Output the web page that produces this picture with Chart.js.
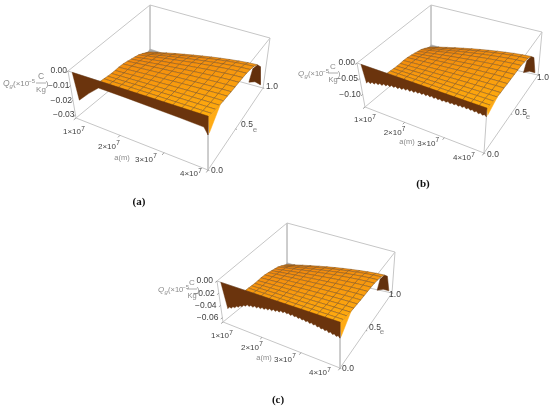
<!DOCTYPE html>
<html>
<head>
<meta charset="utf-8">
<title>Q_g surfaces</title>
<script src="https://cdn.jsdelivr.net/npm/chart.js@4"></script>
<style>
  html, body { margin: 0; padding: 0; background: #fff; }
  #page { position: relative; width: 550px; height: 409px; overflow: hidden; }
  canvas { position: absolute; filter: blur(0.35px); }
</style>
</head>
<body>
<div id="page">
  <canvas id="chartA" width="280" height="212" style="left:0;top:0"></canvas>
  <canvas id="chartB" width="270" height="212" style="left:280px;top:0"></canvas>
  <canvas id="chartC" width="280" height="197" style="left:130px;top:212px"></canvas>
</div>
<script>
// Axis ticks
const aTicks = [1e7, 2e7, 3e7, 4e7];
const aTickLabels = ["1×10", "2×10", "3×10", "4×10"];
const eTicks = [0, 0.5, 1];
const eTickLabels = ["0.0", "0.5", "1.0"];
const qTicksA = [0, -0.01, -0.02, -0.03];
const qTicksB = [0, -0.05, -0.10];
const qTicksC = [0, -0.02, -0.04, -0.06];

// Mesh rows of the visible surface: e of each row and the a where it starts
const surfaceE = [0, 0.063, 0.126, 0.189, 0.252, 0.315, 0.378, 0.442, 0.505, 0.568, 0.631, 0.694, 0.757, 0.82];
const surfaceStartA = [1.69e7, 1.66e7, 1.63e7, 1.60e7, 1.57e7, 1.54e7, 1.525e7, 1.51e7, 1.48e7, 1.45e7, 1.42e7, 1.39e7, 1.36e7, 1.33e7];

// Depth of the surface as a share of the lowest Q on the axis, one line per mesh row
const surfaceDepth = [
  [0, .003, .007, .01, .013, .016, .019, .021, .024, .026, .028, .029, .03],
  [.045, .045, .045, .045, .045, .045, .045, .045, .045, .045, .045, .045, .045],
  [.09, .087, .083, .08, .077, .074, .071, .069, .066, .064, .062, .061, .06],
  [.13, .124, .118, .112, .106, .101, .096, .091, .087, .083, .079, .077, .075],
  [.165, .156, .147, .138, .13, .123, .115, .108, .102, .097, .091, .087, .085],
  [.195, .183, .171, .16, .15, .139, .13, .121, .112, .105, .099, .093, .09],
  [.22, .206, .193, .18, .168, .156, .145, .135, .126, .117, .11, .104, .10],
  [.255, .238, .221, .205, .19, .176, .162, .149, .137, .127, .117, .11, .105],
  [.305, .283, .261, .24, .221, .202, .184, .167, .152, .138, .126, .116, .11],
  [.355, .327, .301, .275, .251, .228, .206, .185, .166, .15, .134, .122, .115],
  [.405, .373, .342, .312, .284, .257, .231, .207, .185, .165, .148, .134, .125],
  [.47, .433, .398, .364, .331, .30, .271, .244, .218, .196, .176, .16, .15],
  [.54, .499, .46, .422, .386, .352, .32, .289, .261, .236, .214, .196, .185],
  [.61, .569, .529, .49, .454, .419, .386, .355, .327, .302, .279, .261, .25]
];

// Dark end of the surface at a = 4e7
const endWallE = [0.82, 0.88, 0.93, 0.81, 0.69, 0.74];
const endWallDepth = [0.25, 0.38, 0.82, 0.57, 0.39, 0.2];

// Lower edge of the dark front wall at e = 0
const wallAA = [1.09e7, 1.15e7, 1.39e7, 1.63e7, 2.2e7, 2.8e7, 3.4e7, 3.91e7, 4e7];
const wallQA = [-0.0006, -0.0182, -0.0112, -0.005, -0.0054, -0.0061, -0.0067, -0.0074, -0.0112];
const wallStartB = 1.15e7;
const wallQB = [-.057, -.049, -.054, -.047, -.051, -.044, -.048, -.042, -.046, -.039, -.043, -.037, -.041, -.035, -.039,
  -.033, -.038, -.032, -.036, -.030, -.034, -.028, -.033, -.027, -.032, -.026, -.030, -.025, -.029, -.024, -.029,
  -.023, -.028, -.023, -.028, -.023, -.028, -.023, -.028, -.023, -.027, -.022, -.027, -.022, -.026, -.021, -.026,
  -.021, -.025, -.020, -.025, -.020, -.025, -.021, -.026, -.021, -.027, -.022, -.027, -.023, -.028];
const wallStartC = 1.18e7;
const wallQC = [-.041, -.037, -.038, -.0345, -.035, -.0315, -.032, -.0285, -.029, -.0255, -.026, -.0225, -.0245, -.0215, -.0235,
  -.0205, -.0225, -.0195, -.0215, -.0185, -.0205, -.0175, -.0195, -.0165, -.0185, -.0155, -.0175, -.0145, -.0165, -.0135, -.0155,
  -.013, -.015, -.013, -.0155, -.013, -.0155, -.0135, -.016, -.014, -.0165, -.0145, -.017, -.015, -.0175, -.0155, -.018,
  -.016, -.019, -.017, -.020, -.018, -.0205, -.0185, -.0215, -.0195, -.022, -.0205, -.023, -.021, -.0235];

// Panel layout: corners of the box on the page, [a=min e=0, a=max e=0, a=min e=1, a=max e=1]
const panels = [
  {
    canvas: 'chartA', left: 0, top: 0, width: 280, height: 212, caption: '(a)', captionAt: [139, 202],
    qBottom: -0.032, qTicks: qTicksA, qDigits: 2, qGap: 1, nameC: 38,
    boxTop: [[68, 71], [208, 116], [150, 5], [270, 38]],
    boxBottom: [[76, 118], [208, 170], [150, 57], [263, 88]],
    wallA: wallAA, wallQ: wallQA,
    aOffsets: [[-2, 14], [-11, 11], [-18, 7], [-17, 4]],
    eLabels: [[217, 171], [247, 125], [272, 87]], eName: [255, 130], aName: [122, 158], qName: [3, 85]
  },
  {
    canvas: 'chartB', left: 280, top: 0, width: 270, height: 212, caption: '(b)', captionAt: [423, 184],
    qBottom: -0.14, qTicks: qTicksB, qDigits: 2, qGap: 2, nameC: 35,
    boxTop: [[357, 63], [487, 108], [431, 5], [542, 32]],
    boxBottom: [[365, 107], [484, 153], [431, 52], [538, 75]],
    wallStart: wallStartB, wallQ: wallQB,
    aOffsets: [[0, 13], [-10, 10], [-16, 6], [-20, 5]],
    eLabels: [[493, 155], [521, 113], [543, 78]], eName: [528, 117], aName: [407, 142], qName: [298, 75]
  },
  {
    canvas: 'chartC', left: 130, top: 212, width: 280, height: 197, caption: '(c)', captionAt: [278, 400],
    qBottom: -0.067, qTicks: qTicksC, qDigits: 2, qGap: 4, nameC: 34,
    boxTop: [[217, 281], [340, 322], [287, 223], [395, 252]],
    boxBottom: [[223, 322], [340, 368], [287, 270], [392, 293]],
    wallStart: wallStartC, wallQ: wallQC,
    aOffsets: [[-1, 14], [-10, 10], [-16, 7], [-20, 5]],
    eLabels: [[348, 369], [375, 328], [395, 295]], eName: [382, 332], aName: [264, 358], qName: [158, 291]
  }
];

const A_MIN = 1e7, A_MAX = 4e7;
const BOX_COLOR = '#c6c6c6';
const TICK_COLOR = '#3f3f3f';
const NAME_COLOR = '#8a8a8a';

function bilinear(c, u, v) {
  const x = (1 - v) * ((1 - u) * c[0][0] + u * c[1][0]) + v * ((1 - u) * c[2][0] + u * c[3][0]);
  const y = (1 - v) * ((1 - u) * c[0][1] + u * c[1][1]) + v * ((1 - u) * c[2][1] + u * c[3][1]);
  return [x, y];
}

// a, e, Q -> page position for one panel
function project(p, a, e, q) {
  const u = (a - A_MIN) / (A_MAX - A_MIN);
  const w = 1 - q / p.qBottom;
  const t = bilinear(p.boxTop, u, e);
  const b = bilinear(p.boxBottom, u, e);
  return { x: b[0] + (t[0] - b[0]) * w, y: b[1] + (t[1] - b[1]) * w };
}

function poly(points, fill, line, width) {
  return {
    data: points,
    showLine: true,
    fill: fill ? 'shape' : false,
    backgroundColor: fill || 'transparent',
    borderColor: line,
    borderWidth: width,
    pointRadius: 0,
    tension: 0,
    clip: false
  };
}

function mix(c1, c2, t) {
  return 'rgb(' + c1.map((v, i) => Math.round(v + (c2[i] - v) * t)).join(',') + ')';
}

function buildDatasets(p) {
  const sets = [];
  const q0 = p.qBottom;
  const edge = (a1, e1, q1, a2, e2, q2) =>
    sets.push(poly([project(p, a1, e1, q1), project(p, a2, e2, q2)], null, BOX_COLOR, 1));

  // box edges
  for (const q of [0, q0]) {
    edge(A_MIN, 0, q, A_MAX, 0, q);
    edge(A_MIN, 1, q, A_MAX, 1, q);
    edge(A_MIN, 0, q, A_MIN, 1, q);
    edge(A_MAX, 0, q, A_MAX, 1, q);
  }
  edge(A_MIN, 0, 0, A_MIN, 0, q0);
  edge(A_MAX, 0, 0, A_MAX, 0, q0);
  edge(A_MIN, 1, 0, A_MIN, 1, q0);
  edge(A_MAX, 1, 0, A_MAX, 1, q0);

  // ticks
  aTicks.forEach(a => sets.push(poly([project(p, a, 0, q0), project(p, a, -0.03, q0)], null, '#8a8a8a', 0.8)));
  eTicks.forEach(e => sets.push(poly([project(p, A_MAX, e, q0), project(p, A_MAX * 1.008, e, q0)], null, '#8a8a8a', 0.8)));
  p.qTicks.forEach(q => sets.push(poly([project(p, A_MIN, 0, q), project(p, A_MIN, -0.025, q)], null, '#8a8a8a', 0.8)));

  // small fold showing at the back corner
  sets.push(poly([
    project(p, A_MIN, 1, 0.846 * q0),
    project(p, 1.3e7, 1, 0.86 * q0),
    project(p, A_MIN, 0.93, 0.88 * q0)
  ], '#a9a9a9', '#a9a9a9', 0.5));

  // dark end wall
  sets.push(poly(endWallE.map((e, i) => project(p, A_MAX, e, endWallDepth[i] * q0)), '#63300c', '#63300c', 0.5));

  // surface, back rows first
  for (let i = surfaceE.length - 2; i >= 0; i--) {
    const cols = surfaceDepth[i].length;
    for (let j = 0; j < cols - 1; j++) {
      const node = (r, c) => {
        const a = surfaceStartA[r] + (A_MAX - surfaceStartA[r]) * c / (cols - 1);
        return project(p, a, surfaceE[r], surfaceDepth[r][c] * q0);
      };
      const t = 0.55 * (i / (surfaceE.length - 2)) + 0.45 * (1 - j / (cols - 2));
      sets.push(poly([node(i, j), node(i, j + 1), node(i + 1, j + 1), node(i + 1, j), node(i, j)],
        mix([255, 172, 14], [238, 128, 14], t), 'rgba(130,85,30,0.75)', 0.7));
    }
  }

  // yellow cut end below the front edge
  const wallEnd = p.wallQ[p.wallQ.length - 1];
  sets.push(poly([
    project(p, A_MAX, 0, 0.03 * q0),
    project(p, A_MAX, 0.2, 0.08 * q0),
    project(p, A_MAX, 0.02, wallEnd)
  ], '#ffab14', '#ffab14', 0.5));

  // dark front wall: top edge then the lower edge coming back
  const n = p.wallQ.length;
  const wallAt = i => p.wallA ? p.wallA[i] : p.wallStart + (A_MAX - p.wallStart) * i / (n - 1);
  const wall = [project(p, 1.09e7, 0, 0), project(p, A_MAX, 0, 0)];
  for (let i = n - 1; i >= 0; i--) wall.push(project(p, wallAt(i), 0, p.wallQ[i]));
  wall.push(project(p, 1.09e7, 0, 0));
  sets.push(poly(wall, '#6b340d', '#6b340d', 0.4));

  // Chart.js paints the first dataset last
  return sets.reverse();
}

function text(ctx, s, x, y, font, color, align) {
  ctx.font = font;
  ctx.fillStyle = color;
  ctx.textAlign = align || 'center';
  ctx.textBaseline = 'middle';
  ctx.fillText(s, x, y);
}

const SANS = '"Liberation Sans", Arial, sans-serif';

const panelText = {
  id: 'panelText',
  afterDraw(chart, args, opts) {
    const p = opts.panel;
    const ctx = chart.ctx;
    const X = v => chart.scales.x.getPixelForValue(v);
    const Y = v => chart.scales.y.getPixelForValue(v);
    ctx.save();

    // a ticks, mantissa plus exponent
    aTicks.forEach((a, i) => {
      const pos = project(p, a, 0, p.qBottom);
      const cx = pos.x + p.aOffsets[i][0];
      const cy = pos.y + p.aOffsets[i][1];
      text(ctx, aTickLabels[i], X(cx - 2), Y(cy), '8px ' + SANS, TICK_COLOR);
      text(ctx, '7', X(cx + 9), Y(cy - 3), '6.5px ' + SANS, TICK_COLOR);
    });
    // e ticks
    eTickLabels.forEach((s, i) => text(ctx, s, X(p.eLabels[i][0]), Y(p.eLabels[i][1]), '8.5px ' + SANS, TICK_COLOR));
    // Q ticks
    p.qTicks.forEach(q => {
      const pos = project(p, A_MIN, 0, q);
      const s = (q < 0 ? '\u2212' : '') + Math.abs(q).toFixed(p.qDigits);
      text(ctx, s, X(pos.x - p.qGap), Y(pos.y), '8.5px ' + SANS, TICK_COLOR, 'right');
    });

    // axis names
    text(ctx, 'a(m)', X(p.aName[0]), Y(p.aName[1]), '7.5px ' + SANS, NAME_COLOR);
    text(ctx, 'e', X(p.eName[0]), Y(p.eName[1]), '8px ' + SANS, NAME_COLOR);

    const nx = p.qName[0], ny = p.qName[1], cx = nx + p.nameC;
    const small = p.nameC < 38 ? 7.5 : 8;
    text(ctx, 'Q', X(nx), Y(ny - 1), 'italic ' + (small + 0.5) + 'px ' + SANS, NAME_COLOR, 'left');
    text(ctx, 'g', X(nx + 6.5), Y(ny + 1), 'italic 6px ' + SANS, NAME_COLOR, 'left');
    text(ctx, '(×10', X(nx + 10), Y(ny - 1), small + 'px ' + SANS, NAME_COLOR, 'left');
    text(ctx, '−5', X(nx + 10 + 1.9 * small), Y(ny - 4), '6px ' + SANS, NAME_COLOR, 'left');
    text(ctx, 'C', X(cx), Y(ny - 8), small + 0.5 + 'px ' + SANS, NAME_COLOR);
    text(ctx, 'Kg', X(cx), Y(ny + 5), small + 'px ' + SANS, NAME_COLOR);
    text(ctx, ')', X(cx + 6), Y(ny - 1), small + 'px ' + SANS, NAME_COLOR);
    ctx.strokeStyle = NAME_COLOR;
    ctx.lineWidth = 0.7;
    ctx.beginPath();
    ctx.moveTo(X(cx - 5), Y(ny - 2));
    ctx.lineTo(X(cx + 5), Y(ny - 2));
    ctx.stroke();

    // caption
    text(ctx, p.caption, X(p.captionAt[0]), Y(p.captionAt[1]), 'bold 11px "Liberation Serif", serif', '#111');
    ctx.restore();
  }
};

panels.forEach(p => {
  new Chart(document.getElementById(p.canvas), {
    type: 'scatter',
    data: { datasets: buildDatasets(p) },
    options: {
      responsive: false,
      animation: false,
      events: [],
      layout: { padding: 0 },
      scales: {
        x: { type: 'linear', display: false, min: p.left, max: p.left + p.width },
        y: { type: 'linear', display: false, min: p.top, max: p.top + p.height, reverse: true }
      },
      plugins: {
        legend: { display: false },
        tooltip: { enabled: false },
        panelText: { panel: p }
      }
    },
    plugins: [panelText]
  });
});
</script>
</body>
</html>
